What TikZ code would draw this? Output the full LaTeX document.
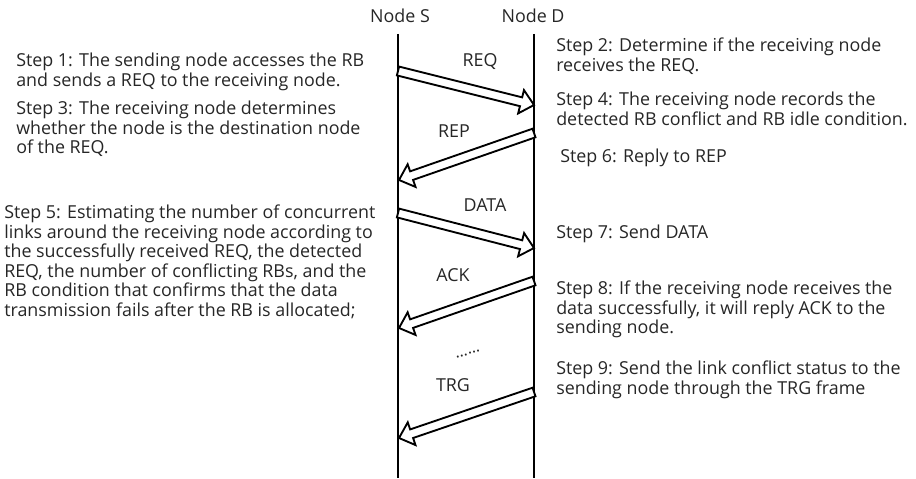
\documentclass[tikz,border=0pt]{standalone}
\usepackage{fontspec}
\setmainfont{Open Sans}
\usetikzlibrary{calc}

\tikzset{
  steptext/.style={anchor=north west, inner sep=0pt, align=left, text=black!85,
    font=\fontsize{13.4}{14.6}\selectfont},
  msglabel/.style={inner sep=0pt, text=black!85, font=\fontsize{13.4}{14.6}\selectfont},
  lifeline/.style={line width=1.5pt},
  msg/.style={line width=1.4pt, line join=miter, fill=white},
}
% hollow message arrow from #1 to #2
\newcommand{\msgarrow}[2]{%
  \coordinate (hd) at ($(#2)!10pt!(#1)$);
  \draw[msg] ($(#1)!3.4pt!90:(#2)$) -- ($(hd)!3.4pt!90:(#2)$) -- ($(hd)!9pt!90:(#2)$) -- (#2)
    -- ($(hd)!9pt!-90:(#2)$) -- ($(hd)!3.4pt!-90:(#2)$) -- ($(#1)!3.4pt!-90:(#2)$) -- cycle;}

\begin{document}
\begin{tikzpicture}[x=0.75pt,y=0.75pt,yscale=-1,xscale=1]
	\useasboundingbox (0,0) rectangle (916,478);
	
	% Lifelines
	\node[msglabel] (nodeS) at (400,16) {Node S};
	\node[msglabel] (nodeD) at (533,16) {Node D};
	\coordinate (Stop) at (398,34);
	\coordinate (Sbot) at (398,478);
	\coordinate (Dtop) at (534,34);
	\coordinate (Dbot) at (534,478);
	\draw[lifeline] (Stop) -- (Sbot);
	\draw[lifeline] (Dtop) -- (Dbot);
	
	% Message end points
	\coordinate (reqS) at (398,71);
	\coordinate (reqD) at (534,105);
	\coordinate (repD) at (534,133);
	\coordinate (repS) at (399,180);
	\coordinate (dataS) at (398,213);
	\coordinate (dataD) at (534,248);
	\coordinate (ackD) at (534,281);
	\coordinate (ackS) at (399,328);
	\coordinate (trgD) at (534,392);
	\coordinate (trgS) at (399,438);
	
	% Messages
	\msgarrow{reqS}{reqD}
	\msgarrow{repD}{repS}
	\msgarrow{dataS}{dataD}
	\msgarrow{ackD}{ackS}
	\msgarrow{trgD}{trgS}
	
	% Message labels
	\node[msglabel] (req) at (480,62) {REQ};
	\node[msglabel] (rep) at (454,131) {REP};
	\node[msglabel] (data) at (485,205) {DATA};
	\node[msglabel] (ack) at (453,275) {ACK};
	\node[msglabel, rotate=18, font=\fontsize{12}{12}\selectfont] (more) at (468,354) {......};
	\node[msglabel] (trg) at (453,385) {TRG};
	
	% Text Node
	\node[steptext] (step1) at (16,53) {Step 1: The sending node accesses the RB\\and sends a REQ to the receiving node.};
	% Text Node
	\node[steptext] (step3) at (16,101) {Step 3: The receiving node determines\\whether the node is the destination node\\of the REQ.};
	% Text Node
	\node[steptext] (step5) at (4,205) {Step 5: Estimating the number of concurrent\\links around the receiving node according to\\the successfully received REQ, the detected\\REQ, the number of conflicting RBs, and the\\RB condition that confirms that the data\\transmission fails after the RB is allocated;};
	% Text Node
	\node[steptext] (step2) at (556,38) {Step 2: Determine if the receiving node\\receives the REQ.};
	% Text Node
	\node[steptext] (step4) at (556,92) {Step 4: The receiving node records the\\detected RB conflict and RB idle condition.};
	% Text Node
	\node[steptext] (step6) at (560,149) {Step 6: Reply to REP};
	% Text Node
	\node[steptext] (step7) at (556,225) {Step 7: Send DATA};
	% Text Node
	\node[steptext] (step8) at (556,281) {Step 8: If the receiving node receives the\\data successfully, it will reply ACK to the\\sending node.};
	% Text Node
	\node[steptext] (step9) at (556,361) {Step 9: Send the link conflict status to the\\sending node through the TRG frame};
	
\end{tikzpicture}
\end{document}
